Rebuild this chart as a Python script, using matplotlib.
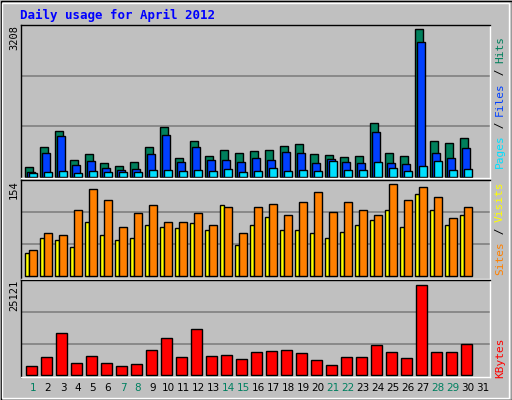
import matplotlib
matplotlib.use("Agg")
import matplotlib.pyplot as plt
from matplotlib.patches import Rectangle

days = list(range(1, 32))
hits = [198,622,961,346,473,283,219,304,622,1046,389,749,431,558,495,537,558,643,685,473,452,410,431,1131,495,431,3123,749,707,813]
files = [106,495,855,240,325,177,134,155,473,876,304,622,346,346,304,389,346,516,495,283,367,304,283,940,283,261,2848,495,389,601]
pages = [71,92,113,71,113,92,92,92,134,134,113,134,113,155,92,113,177,113,134,113,325,134,134,304,177,113,219,325,134,155]
visits = [43,69,66,107,141,122,80,101,115,87,87,101,83,112,69,111,117,99,119,135,104,120,107,99,148,122,143,127,93,111]
sites = [38,61,59,47,88,66,58,61,82,79,77,85,74,114,51,83,96,75,75,69,61,71,82,91,106,80,132,107,83,98]
kbytes = [2379,4757,11100,3172,5022,3172,2379,2907,6608,9779,4757,12158,5022,5286,4229,6079,6343,6608,5815,3965,2643,4757,4757,7929,6079,4493,24051,6079,6079,8193]
max_hits, max_visits, max_kb = 3208, 154, 25121
weekend = {1, 7, 8, 14, 15, 21, 22, 28, 29}

W, H = 512, 400
fig = plt.figure(figsize=(W/100, H/100), dpi=100, facecolor="#C0C0C0")
BG = "#C0C0C0"
MONO = "DejaVu Sans Mono"

def ax_px(x0, y0, x1, y1):
    return fig.add_axes([x0/W, 1-y1/H, (x1-x0)/W, (y1-y0)/H])

def panel(y0, y1, base, top, vmax):
    ax = ax_px(21, y0, 490, y1)
    ax.set_facecolor(BG)
    # pixel->data: base pixel -> 0, top pixel -> vmax
    scale = vmax/(base-top)
    ax.set_ylim(-(y1-base)*scale, (top-y0)*scale + vmax)
    ax.set_xlim(1-4/15, 32)
    for f in (1/3, 2/3):
        ax.axhline(vmax*f, color="#808080", lw=1.2, zorder=0)
    ax.set_xticks([]); ax.set_yticks([])
    for s in ax.spines.values():
        s.set_color("black"); s.set_linewidth(1)
    ax.spines["right"].set_color("white"); ax.spines["bottom"].set_color("white")
    return ax

def bars(ax, vals, off, w, color):
    ax.bar([d+off for d in days[:len(vals)]], vals, width=w, align="edge",
           color=color, edgecolor="black", linewidth=1)

a1 = panel(25, 178, 176.7, 25.3, max_hits)
bars(a1, hits, 0.0, 0.51, "#00805c")
bars(a1, files, 0.156, 0.49, "#0040ff")
bars(a1, pages, 0.29, 0.49, "#00e0ff")

a2 = panel(180, 279, 276.3, 180.5, max_visits)
bars(a2, sites, 0.0, 0.29, "#ffff00")
bars(a2, visits, 0.27, 0.51, "#ff8000")

a3 = panel(280, 377, 375.3, 280.5, max_kb)
bars(a3, kbytes, 0.09, 0.69, "#ff0000")

fig.text(20/W, 1-15/H, "Daily usage for April 2012", color="#0000ff",
         fontsize=9, fontweight="bold", family=MONO, va="center", ha="left")
for txt, y in ((str(max_hits), 38), (str(max_visits), 190), (str(max_kb), 295)):
    fig.text(14/W, 1-y/H, txt, rotation=90, fontsize=7.5, family=MONO,
             va="center", ha="center")

def side(parts, ycenter):
    # draw stacked rotated text bottom-to-top
    total = sum(len(p) for p, _ in parts)
    ch = 6.6
    y = ycenter + total*ch/2
    for p, c in parts:
        n = len(p)
        fig.text(500/W, 1-(y - n*ch/2)/H, p, rotation=90, color=c, fontsize=8,
                 family=MONO, va="center", ha="center")
        y -= n*ch

side([("Pages", "#00e0ff"), (" / ", "#000000"), ("Files", "#0040ff"),
      (" / ", "#000000"), ("Hits", "#00805c")], 102)
side([("Sites", "#ff8000"), (" / ", "#000000"), ("Visits", "#ffff00")], 228)
side([("KBytes", "#ff0000")], 358)

for d in days:
    x = 25 + 15*(d-1) + 8
    fig.text(x/W, 1-388/H, str(d), fontsize=7.5, ha="center", va="center",
             color="#008060" if d in weekend else "black")

# outer bevel
fig.add_artist(Rectangle((0.5/W, 0.5/H), 1-1/W, 1-1/H, transform=fig.transFigure,
                         fill=False, edgecolor="black", lw=1))
fig.add_artist(Rectangle((2/W, 2/H), 1-5/W, 1-5/H, transform=fig.transFigure,
                         fill=False, edgecolor="white", lw=1))
fig.savefig("out.png", dpi=100, facecolor=BG)
